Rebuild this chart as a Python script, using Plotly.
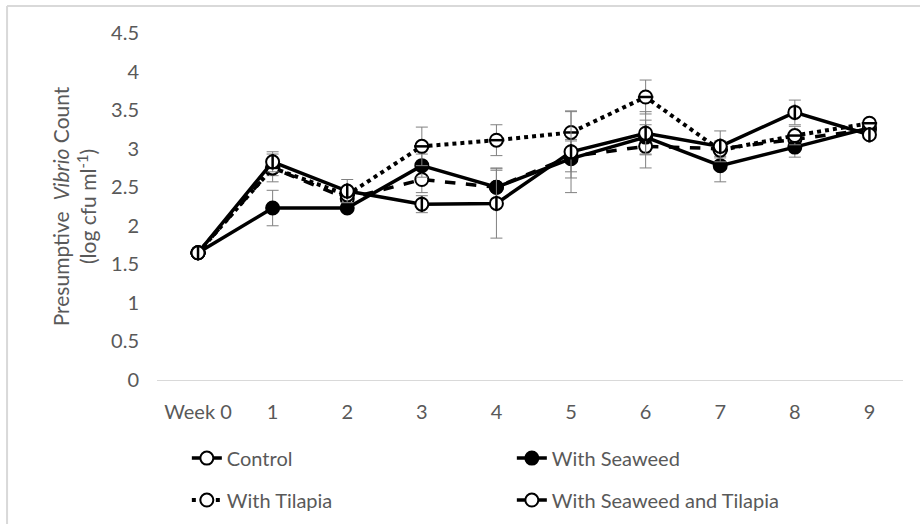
import plotly.graph_objects as go

weeks = ["Week 0", "1", "2", "3", "4", "5", "6", "7", "8", "9"]
control = [1.65, 2.75, 2.35, 2.60, 2.50, 2.90, 3.03, 3.00, 3.12, 3.25]
seaweed = [1.65, 2.23, 2.23, 2.78, 2.50, 2.87, 3.15, 2.78, 3.02, 3.27]
tilapia = [1.65, 2.75, 2.40, 3.03, 3.11, 3.21, 3.67, 2.98, 3.17, 3.33]
seaweed_tilapia = [1.65, 2.83, 2.45, 2.28, 2.29, 2.96, 3.20, 3.03, 3.47, 3.18]

control_err = [0.0, 0.10, 0.08, 0.17, 0.22, 0.20, 0.28, 0.10, 0.10, 0.05]
seaweed_err = [0.0, 0.23, 0.05, 0.15, 0.25, 0.25, 0.22, 0.21, 0.13, 0.05]
tilapia_err = [0.0, 0.18, 0.10, 0.25, 0.20, 0.27, 0.22, 0.10, 0.12, 0.05]
seaweed_tilapia_err = [0.0, 0.13, 0.15, 0.11, 0.45, 0.53, 0.28, 0.20, 0.16, 0.05]

x = list(range(len(weeks)))
GREY = "#595959"
ERR = dict(type="data", thickness=1, width=6, color="#808080")

fig = go.Figure()

def add(name, y, err, dash, symbol, fill, legend, overlay=None, lw=3.5):
    fig.add_trace(go.Scatter(
        x=x, y=y, name=name, mode="lines+markers",
        line=dict(color="black", width=lw, dash=dash),
        marker=dict(symbol=symbol, size=13, color=fill, line=dict(color="black", width=2)),
        error_y=dict(array=err, **ERR), legend=legend,
    ))
    if overlay:
        fig.add_trace(go.Scatter(
            x=x, y=y, mode="markers", showlegend=False, hoverinfo="skip",
            marker=dict(symbol=overlay, size=11, color="black", line=dict(color="black", width=2.5)),
        ))

add("Control", control, control_err, "dash", "circle", "white", "legend")
add("With Seaweed", seaweed, seaweed_err, "solid", "circle", "black", "legend")
add("With Tilapia", tilapia, tilapia_err, "dot", "circle", "white", "legend2", overlay="line-ew", lw=4)
add("With Seaweed and Tilapia", seaweed_tilapia, seaweed_tilapia_err, "solid", "circle", "white", "legend2", overlay="line-ns")

FONT = dict(family="Lato, 'Open Sans', sans-serif", size=20, color=GREY)
TITLE_FONT = dict(family="Lato, 'Open Sans', sans-serif", size=21, color=GREY)

fig.update_layout(
    width=920, height=524,
    margin=dict(l=157, r=17, t=33, b=144, autoexpand=False),
    paper_bgcolor="white", plot_bgcolor="white",
    font=FONT,
    xaxis=dict(tickmode="array", tickvals=x, ticktext=weeks, range=[-0.55, 9.45],
               showgrid=False, zeroline=False, showline=True, linecolor="#d9d9d9", linewidth=1,
               ticks="", ticklabelstandoff=14, tickfont=FONT, automargin=False),
    yaxis=dict(range=[0, 4.5], dtick=0.5, showgrid=False, zeroline=False, showline=False,
               ticks="", ticklabelstandoff=17, tickfont=FONT, tickformat="~g", automargin=False),
    legend=dict(orientation="h", x=0.04, xanchor="left", y=-0.225, yanchor="middle",
                entrywidth=280, entrywidthmode="pixels", font=FONT, bgcolor="rgba(0,0,0,0)"),
    legend2=dict(orientation="h", x=0.04, xanchor="left", y=-0.346, yanchor="middle",
                 entrywidth=280, entrywidthmode="pixels", font=FONT, bgcolor="rgba(0,0,0,0)"),
    showlegend=True,
)

fig.add_annotation(
    text="Presumptive  <i>Vibrio</i> Count<br>(log cfu ml<sup>-1</sup>)",
    xref="paper", yref="paper", x=-0.111, y=0.501, textangle=-90,
    showarrow=False, font=TITLE_FONT, xanchor="center", yanchor="middle",
)

# outer frame (left and top edges)
fig.add_shape(type="line", xref="paper", yref="paper", x0=-0.201, x1=-0.201, y0=1.078, y1=-0.45,
              line=dict(color="#d9d9d9", width=2))
fig.add_shape(type="line", xref="paper", yref="paper", x0=-0.201, x1=1.03, y0=1.078, y1=1.078,
              line=dict(color="#d9d9d9", width=2))

fig.write_html("out.html", config={"displayModeBar": False})

with open("out.html", "r", encoding="utf-8") as f:
    html = f.read()
html = html.replace("<head>", "<head><style>html,body{margin:0;padding:0;overflow:hidden}</style>", 1)
with open("out.html", "w", encoding="utf-8") as f:
    f.write(html)
